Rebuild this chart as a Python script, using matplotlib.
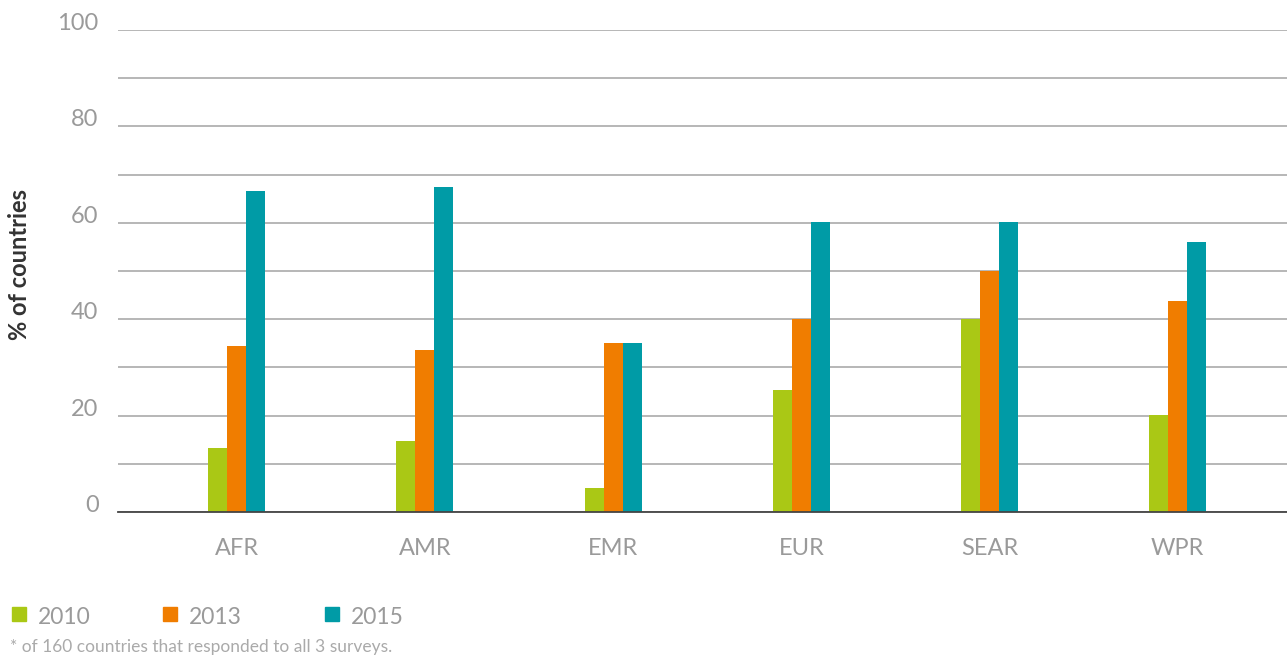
import numpy as np
import matplotlib.pyplot as plt
from matplotlib.patches import Rectangle

regions = ["AFR", "AMR", "EMR", "EUR", "SEAR", "WPR"]
years = ["2010", "2013", "2015"]
v2010 = [13.3, 14.7, 5.0, 25.3, 40.0, 20.1]
v2013 = [34.5, 33.6, 35.1, 40.0, 50.0, 43.8]
v2015 = [66.6, 67.4, 35.1, 60.2, 60.2, 56.0]
colors = ["#AAC815", "#F07D00", "#009BA6"]

plt.rcParams['font.family'] = ['Lato', 'DejaVu Sans']

fig = plt.figure(figsize=(12.87, 6.57), dpi=100)
ax = fig.add_axes([118 / 1287, 1 - 512 / 657, 1 - 118 / 1287, (512 - 30) / 657])

x = np.arange(len(regions))
w = 0.101
for i, vals in enumerate([v2010, v2013, v2015]):
    ax.bar(x + (i - 1) * w, vals, width=w, color=colors[i], zorder=3)

ax.set_xlim(-0.63, 5.58)
ax.set_ylim(0, 100)
ax.set_yticks(np.arange(0, 101, 10))
ax.set_yticklabels([str(v) if v % 20 == 0 else "" for v in range(0, 101, 10)])
ax.yaxis.grid(True, color="#AAAAAA", linewidth=1.2, zorder=0)
ax.set_axisbelow(True)
for s in ["top", "right", "left"]:
    ax.spines[s].set_visible(False)
ax.spines["bottom"].set_color("#444444")
ax.spines["bottom"].set_linewidth(1.3)
ax.spines["bottom"].set_zorder(4)

ax.set_xticks(x)
ax.set_xticklabels(regions)
ax.tick_params(axis="x", length=0, pad=19, labelsize=17, labelcolor="#9A9A9A")
ax.tick_params(axis="y", length=0, pad=14, labelsize=17, labelcolor="#9A9A9A")
for lbl in ax.get_yticklabels():
    lbl.set_verticalalignment("baseline")

fig.text(20 / 1287, 1 - 265 / 657, "% of countries", rotation=90, ha="center", va="center",
         fontsize=17, fontweight="bold", color="#333333")

# legend along the bottom
leg_x = [12, 163, 325]
for i, yr in enumerate(years):
    fig.patches.append(Rectangle((leg_x[i] / 1287, 1 - 621 / 657), 14 / 1287, 14 / 657,
                                 transform=fig.transFigure, color=colors[i]))
    fig.text((leg_x[i] + 26) / 1287, 1 - 618 / 657, yr, ha="left", va="center",
             fontsize=16.5, color="#9A9A9A")

fig.text(10 / 1287, 1 - 647 / 657, "* of 160 countries that responded to all 3 surveys.",
         ha="left", va="center", fontsize=12.5, color="#AAAAAA")

fig.savefig("out.png", dpi=100)
